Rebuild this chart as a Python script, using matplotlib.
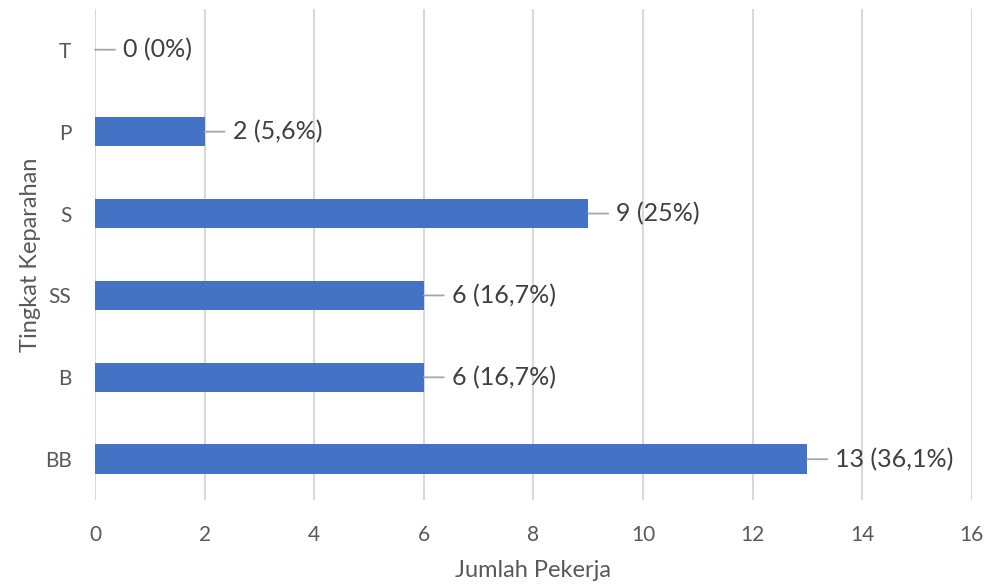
import matplotlib
matplotlib.use("Agg")
import matplotlib.pyplot as plt

# data
kategori = ["BB", "B", "SS", "S", "P", "T"]
jumlah = [13, 6, 6, 9, 2, 0]
label = ["13 (36,1%)", "6 (16,7%)", "6 (16,7%)", "9 (25%)", "2 (5,6%)", "0 (0%)"]
xticks = [0, 2, 4, 6, 8, 10, 12, 14, 16]

plt.rcParams["font.family"] = ["Lato", "DejaVu Sans"]
abu = "#595959"

fig = plt.figure(figsize=(9.93, 5.85), dpi=100)
ax = fig.add_axes([0.0957, 0.145, 0.883, 0.840])

pos = list(range(len(kategori)))
ax.barh(pos, jumlah, height=0.36, color="#4472C4", zorder=3)

for i, (v, t) in enumerate(zip(jumlah, label)):
    ax.annotate("", xy=(v, i), xytext=(20, 0), textcoords="offset pixels",
                arrowprops=dict(arrowstyle="-", color="#a6a6a6", lw=1.3,
                                shrinkA=0, shrinkB=0))
    ax.annotate(t, xy=(v, i), xytext=(28, 0), textcoords="offset pixels",
                ha="left", va="center", fontsize=18, color="#404040")

ax.set_xlim(0, 16)
ax.set_ylim(-0.5, 5.5)
ax.set_xticks(xticks)
ax.set_yticks(pos)
ax.set_yticklabels(kategori)
ax.grid(axis="x", color="#d9d9d9", lw=1.5, zorder=0)
ax.tick_params(length=0, labelsize=15, colors=abu)
ax.tick_params(axis="x", pad=18)
ax.tick_params(axis="y", pad=17)
for s in ax.spines.values():
    s.set_visible(False)

ax.set_xlabel("Jumlah Pekerja", fontsize=17, color=abu, labelpad=11)
ax.set_ylabel("Tingkat Keparahan", fontsize=17, color=abu, labelpad=3)

fig.savefig("out.png", dpi=100)
